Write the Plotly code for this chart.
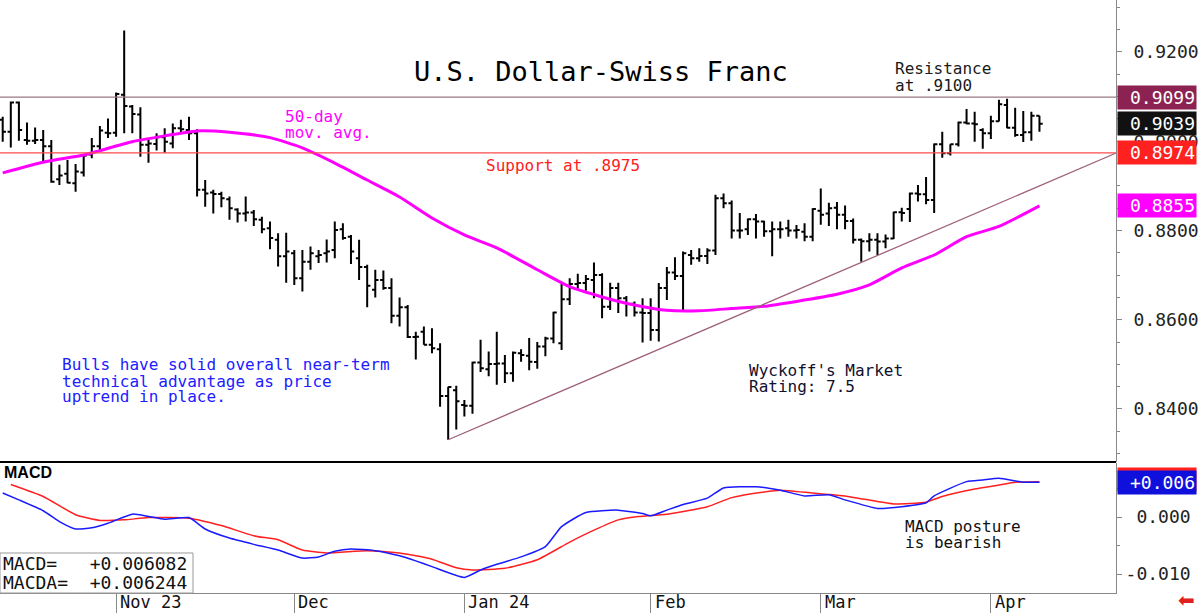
import plotly.graph_objects as go
import pandas as pd

W, H = 1200, 613
MONO = "DejaVu Sans Mono"

# ---------------- data ----------------
dates = pd.bdate_range("2023-10-12", periods=129)
bar_x = list(range(len(dates)))

opens = [.9048, .9021, .9087, .9003, .9001, .9003, .8989, .8915, .8927, .8906,
         .8930, .8970, .8989, .9019, .9019, .9104, .9078, .9060, .8992, .8994,
         .9009, .8995, .9029, .9025, .9018, .8891, .8885, .8882, .8870, .8847,
         .8838, .8840, .8824, .8805, .8779, .8742, .8749, .8693, .8730, .8742,
         .8749, .8756, .8803, .8786, .8738, .8718, .8667, .8689, .8671, .8609,
         .8628, .8561, .8573, .8544, .8534, .8429, .8442, .8409, .8407, .8504,
         .8489, .8501, .8502, .8480, .8525, .8519, .8505, .8540, .8558, .8547,
         .8646, .8680, .8682, .8689, .8700, .8629, .8671, .8648, .8636, .8616,
         .8615, .8577, .8671, .8706, .8698, .8745, .8738, .8743, .8755, .8872,
         .8861, .8800, .8803, .8825, .8820, .8798, .8803, .8805, .8800, .8797,
         .8786, .8844, .8838, .8851, .8835, .8821, .8779, .8776, .8779, .8775,
         .8782, .8841, .8848, .8883, .8881, .8868, .8993, .8973, .8993, .9042,
         .9040, .9025, .9018, .9045, .9081, .9030, .9014, .9020, .9057]
highs = [.9055, .9089, .9089, .9042, .9031, .9025, .9003, .8947, .8958, .8949,
         .8969, .9007, .9034, .9051, .9109, .9248, .9081, .9076, .9003, .9018,
         .9029, .9040, .9048, .9055, .9027, .8913, .8891, .8887, .8876, .8850,
         .8876, .8846, .8831, .8820, .8794, .8795, .8756, .8756, .8764, .8756,
         .8780, .8820, .8816, .8790, .8779, .8723, .8712, .8710, .8693, .8650,
         .8633, .8573, .8585, .8581, .8547, .8450, .8452, .8420, .8506, .8555,
         .8529, .8573, .8521, .8529, .8534, .8559, .8550, .8562, .8618, .8685,
         .8693, .8703, .8700, .8728, .8704, .8683, .8683, .8653, .8641, .8648,
         .8648, .8682, .8718, .8740, .8753, .8756, .8760, .8760, .8880, .8883,
         .8867, .8839, .8827, .8837, .8822, .8820, .8820, .8824, .8812, .8816,
         .8850, .8894, .8862, .8864, .8856, .8827, .8782, .8794, .8794, .8791,
         .8842, .8851, .8885, .8902, .8920, .8995, .9021, .8993, .9044, .9072,
         .9066, .9029, .9057, .9093, .9095, .9075, .9068, .9066, .9057]
lows = [.8999, .8986, .9001, .8992, .8994, .8954, .8907, .8902, .8906, .8887,
        .8921, .8962, .8977, .9007, .9010, .9018, .9018, .8965, .8952, .8979,
        .8974, .8984, .9018, .9003, .8876, .8853, .8838, .8852, .8824, .8818,
        .8820, .8810, .8794, .8758, .8719, .8683, .8678, .8663, .8712, .8727,
        .8728, .8738, .8779, .8725, .8689, .8628, .8650, .8667, .8592, .8585,
        .8559, .8511, .8544, .8525, .8405, .8331, .8354, .8383, .8389, .8483,
        .8473, .8454, .8458, .8461, .8506, .8487, .8490, .8518, .8547, .8532,
        .8633, .8667, .8665, .8648, .8603, .8622, .8615, .8607, .8607, .8549,
        .8553, .8551, .8644, .8689, .8618, .8723, .8730, .8725, .8745, .8850,
        .8782, .8782, .8790, .8782, .8786, .8742, .8782, .8786, .8782, .8776,
        .8776, .8813, .8810, .8803, .8803, .8771, .8730, .8753, .8745, .8760,
        .8781, .8820, .8819, .8865, .8859, .8839, .8963, .8968, .8988, .9038,
        .8999, .8983, .9005, .9044, .9029, .9010, .8998, .9001, .9021]
closes = [.9021, .9087, .9025, .9001, .9003, .8989, .8909, .8923, .8907, .8932,
          .8968, .8989, .9024, .9018, .9106, .9079, .9061, .8992, .8995, .9009,
          .8999, .9029, .9027, .9018, .8891, .8883, .8882, .8872, .8850, .8838,
          .8840, .8825, .8803, .8783, .8742, .8753, .8693, .8730, .8749, .8745,
          .8753, .8801, .8783, .8753, .8718, .8676, .8689, .8671, .8609, .8628,
          .8561, .8562, .8544, .8536, .8429, .8449, .8417, .8407, .8504, .8491,
          .8501, .8502, .8480, .8526, .8521, .8506, .8540, .8558, .8616, .8646,
          .8680, .8682, .8691, .8700, .8629, .8671, .8648, .8636, .8616, .8615,
          .8577, .8671, .8706, .8698, .8749, .8738, .8743, .8755, .8872, .8861,
          .8800, .8800, .8825, .8820, .8798, .8803, .8803, .8800, .8801, .8786,
          .8848, .8835, .8850, .8835, .8821, .8779, .8776, .8779, .8775, .8782,
          .8841, .8839, .8883, .8881, .8868, .8993, .8973, .8993, .9042, .9040,
          .9038, .9018, .9045, .9083, .9030, .9014, .9020, .9057, .9039]

# 50-day moving average
ma_x = [0, 5, 10, 12, 16, 20, 24, 28, 33, 37, 41, 45, 49, 53, 57, 61, 66, 70,
        74, 78, 82, 86, 90, 94, 98, 103, 107, 111, 115, 119, 123, 128]
ma_y = [.8929, .8953, .8969, .8979, .8999, .9012, .9023, .9020, .9008, .8985,
        .8951, .8913, .8875, .8828, .8790, .8761, .8712, .8674, .8651, .8633,
        .8621, .8620, .8625, .8630, .8641, .8657, .8678, .8716, .8745, .8786,
        .8809, .8855]

# MACD (blue) and MACDA signal (red)
macd_x = [0, 2, 5, 7, 9, 11, 13, 16, 18, 20, 23, 25, 28, 31, 34, 37, 39, 41, 43,
          46, 49, 51, 53, 57, 59, 61, 64, 67, 69, 72, 76, 79, 80, 82, 84, 87, 89,
          93, 96, 99, 102, 104, 108, 111, 114, 115, 119, 121, 123, 126, 128]
macd_v = [.0042, .0030, .0011, -.0008, -.0021, -.0019, -.0011, .0005, .0001,
          -.0004, -.0001, -.0021, -.0037, -.0048, -.0058, -.0072, -.0070, -.0060,
          -.0056, -.0059, -.0068, -.0077, -.0087, -.0106, -.0093, -.0083, -.0070,
          -.0052, -.0017, .0008, .0012, .0006, .0002, .0012, .0022, .0033, .0051,
          .0053, .0047, .0037, .0039, .0030, .0015, .0018, .0025, .0037, .0062,
          .0065, .0068, .0061, .0061]
sig_x = [1, 5, 9, 12, 15, 18, 23, 27, 31, 34, 37, 40, 45, 49, 53, 56, 58, 62, 66,
         70, 73, 76, 78, 82, 87, 90, 94, 96, 100, 104, 108, 110, 114, 116, 120,
         123, 125, 128]
sig_v = [.0057, .0036, .0004, -.0006, -.0005, -.0001, -.0002, -.0015, -.0033,
         -.0040, -.0058, -.0063, -.0059, -.0063, -.0074, -.0089, -.0093, -.0090,
         -.0075, -.0044, -.0023, -.0005, .0000, .0005, .0018, .0034, .0044, .0047,
         .0042, .0037, .0027, .0023, .0026, .0036, .0049, .0056, .0061, .0062]

resistance = 0.9099
support = 0.8974
trend_x = [55, 137.4]
trend_y = [0.8331, 0.8973]
macd_last = 0.006082
macda_last = 0.006244

tick_labels = ["Nov 23", "Dec", "Jan 24", "Feb", "Mar", "Apr"]
month_starts = [i for i in range(1, len(dates)) if dates[i].month != dates[i - 1].month]

# ---------------- figure ----------------
def py(Y):
    return 1 - Y / H

def px(X):
    return X / W

XR = px(1116)

fig = go.Figure()
fig.add_trace(go.Ohlc(x=bar_x, open=opens, high=highs, low=lows, close=closes,
                      increasing=dict(line=dict(color="black", width=2)),
                      decreasing=dict(line=dict(color="black", width=2)),
                      tickwidth=0.4, xaxis="x", yaxis="y", hoverinfo="skip"))
fig.add_trace(go.Scatter(x=ma_x, y=ma_y, mode="lines",
                         line=dict(color="#ff00ff", width=3, shape="spline", smoothing=0.6),
                         xaxis="x", yaxis="y", hoverinfo="skip"))
fig.add_trace(go.Scatter(x=sig_x, y=sig_v, mode="lines",
                         line=dict(color="#ff2020", width=1.5, shape="spline", smoothing=0.5),
                         xaxis="x", yaxis="y2", hoverinfo="skip"))
fig.add_trace(go.Scatter(x=macd_x, y=macd_v, mode="lines",
                         line=dict(color="#1a1aff", width=1.5, shape="spline", smoothing=0.5),
                         xaxis="x", yaxis="y2", hoverinfo="skip"))

# horizontal levels and trend line
fig.add_shape(type="line", xref="paper", yref="y", x0=0, x1=XR, y0=resistance, y1=resistance,
              line=dict(color="#9c7886", width=1.2))
fig.add_shape(type="line", xref="paper", yref="y", x0=0, x1=XR, y0=support, y1=support,
              line=dict(color="#ff4a4a", width=1.2))
fig.add_shape(type="line", xref="x", yref="y", x0=trend_x[0], x1=trend_x[1],
              y0=trend_y[0], y1=trend_y[1], line=dict(color="#a0607c", width=1.3))
# panel separator
fig.add_shape(type="line", xref="paper", yref="paper", x0=0, x1=XR, y0=py(462), y1=py(462),
              line=dict(color="black", width=2))

fig.update_layout(
    width=W, height=H, margin=dict(l=0, r=0, t=0, b=0),
    paper_bgcolor="white", plot_bgcolor="white", showlegend=False,
    xaxis=dict(domain=[0, XR], range=[-0.333, 137.45], anchor="y2",
               rangeslider=dict(visible=False), showgrid=False, zeroline=False,
               showline=True, linecolor="#888888", linewidth=1,
               tickvals=month_starts, ticktext=["" for _ in month_starts],
               ticks="outside", ticklen=20, tickcolor="#888888", tickwidth=1,
               showticklabels=False),
    yaxis=dict(domain=[py(462), 1], range=[0.82811, 0.93165], side="right",
               anchor="x", showgrid=False, zeroline=False, showline=True,
               linecolor="#888888", linewidth=1, dtick=0.02, tick0=0.84,
               tickformat=".4f", ticks="outside", ticklen=5, tickcolor="#888888",
               ticklabelstandoff=8,
               minor=dict(dtick=0.005, ticks="outside", ticklen=3, tickcolor="#888888"),
               tickfont=dict(family=MONO, size=18, color="#222222")),
    yaxis2=dict(domain=[py(593), py(463)], range=[-0.01333, 0.00947], side="right",
                anchor="x", showgrid=False, zeroline=False, showline=True,
                linecolor="#888888", linewidth=1,
                tickvals=[-0.01, 0.0], ticktext=["-0.010", "\u00a00.000"],
                ticks="outside", ticklen=5, tickcolor="#888888", ticklabelstandoff=0,
                minor=dict(dtick=0.005, ticks="outside", ticklen=3, tickcolor="#888888"),
                tickfont=dict(family=MONO, size=18, color="#222222")),
)

def text_lines(lines, X, Y0, dy, color, size=16, family=MONO):
    for k, t in enumerate(lines):
        fig.add_annotation(x=px(X), y=py(Y0 + k * dy), xref="paper", yref="paper",
                           text=t, showarrow=False, xanchor="left", yanchor="middle",
                           font=dict(family=family, size=size, color=color))

# title and notes
fig.add_annotation(x=px(601), y=py(71), xref="paper", yref="paper",
                   text="U.S. Dollar-Swiss Franc", showarrow=False,
                   xanchor="center", yanchor="middle",
                   font=dict(family=MONO, size=27, color="black"))
text_lines(["Resistance", "at .9100"], 893, 69, 16, "#1a1a1a")
text_lines(["50-day", "mov. avg."], 283, 116, 16, "#ff00ff")
text_lines(["Support at .8975"], 484, 165, 16, "#ff2020")
text_lines(["Bulls have solid overall near-term", "technical advantage as price",
            "uptrend in place."], 60, 365, 16, "#2020ff")
text_lines(["Wyckoff's Market", "Rating: 7.5"], 747, 370, 16, "#101030")
text_lines(["MACD posture", "is bearish"], 903, 526, 16, "#111111")
fig.add_annotation(x=px(2), y=py(472), xref="paper", yref="paper", text="<b>MACD</b>",
                   showarrow=False, xanchor="left", yanchor="middle",
                   font=dict(family="Liberation Sans", size=16, color="black"))

# MACD legend box
fig.add_shape(type="rect", xref="paper", yref="paper", x0=px(0), x1=px(193),
              y0=py(593), y1=py(553), line=dict(color="#999999", width=1),
              fillcolor="white", layer="above")
text_lines([f"MACD=\u00a0\u00a0\u00a0{macd_last:+.6f}", f"MACDA=\u00a0\u00a0{macda_last:+.6f}"],
           1, 563, 19, "#111111", size=18)

# x tick labels (right of the tick lines)
for i, lab in zip(month_starts, tick_labels):
    fig.add_annotation(x=i, y=0, xref="x", yref="paper", text=lab, showarrow=False,
                       xanchor="left", yanchor="bottom", xshift=3, borderpad=0,
                       font=dict(family=MONO, size=17, color="#111111"))

# right-hand value boxes
def value_box(val, yref, color, fmt):
    fig.add_annotation(x=px(1117), y=val, xref="paper", yref=yref, text=fmt.format(val),
                       showarrow=False, xanchor="left", yanchor="middle",
                       width=76, height=21, align="right", bgcolor=color, borderpad=1,
                       font=dict(family=MONO, size=18, color="white"))

value_box(resistance, "y", "#8b2252", "{:.4f}")
value_box(closes[-1], "y", "#111111", "{:.4f}")
value_box(support, "y", "#ff2020", "{:.4f}")
value_box(ma_y[-1], "y", "#ff00ff", "{:.4f}")
fig.add_annotation(x=px(1117), y=macda_last, xref="paper", yref="y2", text="",
                   showarrow=False, xanchor="left", yanchor="middle", yshift=2,
                   width=76, height=21, bgcolor="#ff2020", borderpad=1)
value_box(macd_last, "y2", "#1010dd", "{:+.3f}")

fig.add_annotation(x=px(1186), y=0, xref="paper", yref="paper", text="⬅",
                   showarrow=False, xanchor="center", yanchor="bottom", borderpad=0,
                   font=dict(family="DejaVu Sans", size=20, color="#e02020"))

fig.write_html("out.html")
